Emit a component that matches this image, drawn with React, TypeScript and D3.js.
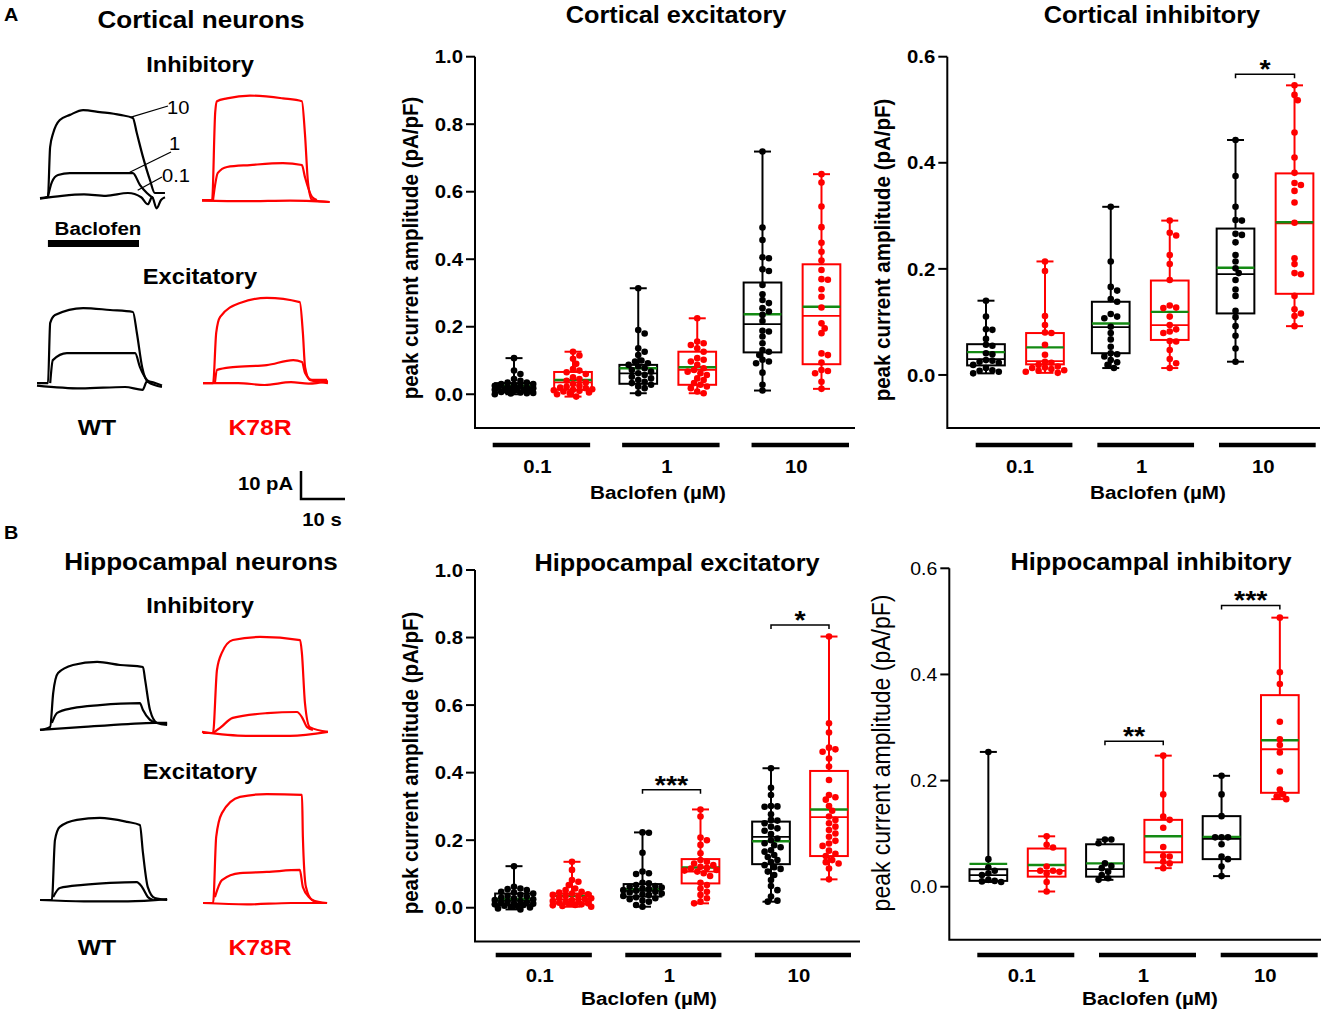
import React from 'react';
import * as d3 from 'd3';

const FONT = '"Liberation Sans", Arial, Helvetica, sans-serif';
const SX = 1.1; // the figure is slightly stretched horizontally
const RED = '#ff0000';
const GREEN = '#138a13';
const W = 1325;
const H = 1014;

const doses = ['0.1', '1', '10'];
const genotypes = ['WT', 'K78R'];
const genoColor: Record<string, string> = { WT: '#000', K78R: RED };

const ticksTo1 = [0, 0.2, 0.4, 0.6, 0.8, 1.0];
const ticksTo06 = [0, 0.2, 0.4, 0.6];

// box order: WT 0.1, K78R 0.1, WT 1, K78R 1, WT 10, K78R 10
// [q1, median, q3]
const cortExcQuart = [
  [0.006, 0.02, 0.033], [0.013, 0.035, 0.066], [0.031, 0.062, 0.087],
  [0.028, 0.072, 0.126], [0.124, 0.208, 0.331], [0.089, 0.232, 0.385],
];
const cortExcMean = [0.025, 0.042, 0.077, 0.08, 0.237, 0.259];
const cortExcPts = [
  [0.107, 0.07, 0.06, 0.045, 0.04, 0.035, 0.035, 0.03, 0.03, 0.028, 0.025, 0.025, 0.022, 0.02, 0.02, 0.018, 0.017, 0.015, 0.015, 0.013, 0.012, 0.01, 0.01, 0.008, 0.007, 0.005, 0.004, 0.003, 0.002, 0.0],
  [0.126, 0.115, 0.105, 0.09, 0.075, 0.07, 0.065, 0.06, 0.05, 0.045, 0.04, 0.035, 0.03, 0.025, 0.022, 0.02, 0.018, 0.015, 0.013, 0.012, 0.01, 0.008, 0.005, 0.003, 0.0, -0.007],
  [0.314, 0.19, 0.18, 0.136, 0.126, 0.116, 0.1, 0.097, 0.092, 0.087, 0.082, 0.077, 0.072, 0.067, 0.062, 0.057, 0.052, 0.047, 0.042, 0.037, 0.033, 0.028, 0.023, 0.018, 0.003],
  [0.225, 0.156, 0.151, 0.146, 0.136, 0.126, 0.107, 0.102, 0.097, 0.087, 0.077, 0.072, 0.067, 0.062, 0.057, 0.047, 0.042, 0.033, 0.028, 0.023, 0.018, 0.008, 0.003],
  [0.719, 0.494, 0.457, 0.406, 0.403, 0.37, 0.365, 0.324, 0.296, 0.279, 0.27, 0.255, 0.245, 0.235, 0.217, 0.188, 0.186, 0.171, 0.151, 0.131, 0.126, 0.116, 0.102, 0.097, 0.092, 0.064, 0.028, 0.011],
  [0.652, 0.627, 0.556, 0.495, 0.449, 0.422, 0.396, 0.368, 0.341, 0.339, 0.311, 0.289, 0.257, 0.21, 0.195, 0.181, 0.121, 0.116, 0.094, 0.072, 0.069, 0.062, 0.037, 0.016],
];

const cortInhQuart = [
  [0.018, 0.03, 0.058], [0.02, 0.026, 0.079], [0.041, 0.09, 0.138],
  [0.066, 0.094, 0.178], [0.116, 0.19, 0.276], [0.153, 0.286, 0.38],
];
const cortInhMean = [0.043, 0.052, 0.097, 0.119, 0.202, 0.288];
const cortInhPts = [
  [0.14, 0.11, 0.086, 0.085, 0.068, 0.057, 0.055, 0.041, 0.039, 0.028, 0.027, 0.025, 0.023, 0.019, 0.013, 0.009, 0.008, 0.006, 0.003],
  [0.214, 0.196, 0.111, 0.094, 0.08, 0.079, 0.057, 0.038, 0.025, 0.023, 0.019, 0.016, 0.014, 0.013, 0.011, 0.009, 0.008, 0.006, 0.004],
  [0.317, 0.214, 0.166, 0.159, 0.143, 0.138, 0.115, 0.11, 0.107, 0.091, 0.079, 0.067, 0.053, 0.041, 0.039, 0.035, 0.028, 0.024, 0.019, 0.013],
  [0.291, 0.268, 0.263, 0.226, 0.209, 0.179, 0.131, 0.127, 0.126, 0.11, 0.094, 0.086, 0.082, 0.079, 0.064, 0.063, 0.047, 0.03, 0.022, 0.013],
  [0.443, 0.375, 0.317, 0.292, 0.291, 0.266, 0.264, 0.25, 0.226, 0.214, 0.201, 0.192, 0.179, 0.161, 0.149, 0.121, 0.109, 0.092, 0.074, 0.05, 0.025],
  [0.546, 0.528, 0.518, 0.457, 0.41, 0.381, 0.362, 0.358, 0.347, 0.325, 0.287, 0.22, 0.209, 0.192, 0.19, 0.149, 0.124, 0.116, 0.111, 0.092],
];
const cortInhSig = [{ dose: '10', y: 0.567, label: '*' }];

const hipExcQuart = [
  [0.008, 0.021, 0.042], [0.013, 0.025, 0.042], [0.033, 0.05, 0.07],
  [0.072, 0.107, 0.144], [0.129, 0.21, 0.255], [0.153, 0.268, 0.405],
];
const hipExcMean = [0.026, 0.035, 0.055, 0.119, 0.197, 0.291];
const hipExcPts = [
  [0.123, 0.062, 0.057, 0.055, 0.052, 0.047, 0.045, 0.042, 0.038, 0.035, 0.033, 0.03, 0.028, 0.025, 0.023, 0.02, 0.018, 0.016, 0.015, 0.013, 0.012, 0.01, 0.008, 0.006, 0.005, 0.003, 0.001, -0.002, -0.005],
  [0.136, 0.112, 0.082, 0.077, 0.067, 0.057, 0.052, 0.047, 0.045, 0.042, 0.04, 0.038, 0.035, 0.033, 0.03, 0.028, 0.026, 0.023, 0.02, 0.018, 0.016, 0.015, 0.013, 0.012, 0.01, 0.008, 0.007, 0.005, 0.003],
  [0.223, 0.222, 0.163, 0.107, 0.102, 0.1, 0.074, 0.072, 0.067, 0.064, 0.062, 0.06, 0.057, 0.055, 0.052, 0.05, 0.047, 0.045, 0.042, 0.04, 0.038, 0.035, 0.031, 0.028, 0.025, 0.021, 0.018, 0.008, 0.003],
  [0.291, 0.27, 0.208, 0.2, 0.186, 0.161, 0.141, 0.136, 0.131, 0.126, 0.121, 0.118, 0.116, 0.112, 0.11, 0.107, 0.102, 0.094, 0.074, 0.067, 0.057, 0.047, 0.038, 0.028, 0.018, 0.013],
  [0.413, 0.355, 0.334, 0.301, 0.3, 0.299, 0.277, 0.26, 0.258, 0.25, 0.24, 0.235, 0.228, 0.218, 0.205, 0.2, 0.191, 0.185, 0.179, 0.17, 0.166, 0.156, 0.15, 0.141, 0.135, 0.126, 0.12, 0.115, 0.107, 0.097, 0.082, 0.064, 0.052, 0.033, 0.021, 0.018],
  [0.803, 0.546, 0.519, 0.474, 0.469, 0.462, 0.442, 0.418, 0.378, 0.334, 0.327, 0.32, 0.301, 0.287, 0.27, 0.26, 0.25, 0.24, 0.23, 0.22, 0.21, 0.198, 0.19, 0.183, 0.169, 0.16, 0.153, 0.141, 0.135, 0.131, 0.116, 0.084],
];
const hipExcSig = [
  { dose: '1', y: 0.349, label: '***' },
  { dose: '10', y: 0.837, label: '*' },
];

const hipInhQuart = [
  [0.011, 0.022, 0.033], [0.019, 0.03, 0.072], [0.019, 0.033, 0.08],
  [0.046, 0.065, 0.126], [0.052, 0.09, 0.133], [0.177, 0.259, 0.361],
];
const hipInhMean = [0.043, 0.041, 0.044, 0.095, 0.094, 0.276];
const hipInhPts = [
  [0.254, 0.052, 0.036, 0.03, 0.025, 0.022, 0.013, 0.011, 0.01, 0.009],
  [0.095, 0.079, 0.074, 0.038, 0.03, 0.03, 0.028, 0.025, 0.009, -0.009],
  [0.089, 0.089, 0.082, 0.044, 0.039, 0.035, 0.028, 0.022, 0.016, 0.013],
  [0.247, 0.174, 0.132, 0.126, 0.111, 0.075, 0.058, 0.057, 0.047, 0.044, 0.035],
  [0.209, 0.174, 0.133, 0.093, 0.093, 0.093, 0.08, 0.057, 0.052, 0.038, 0.02],
  [0.507, 0.404, 0.382, 0.311, 0.278, 0.267, 0.253, 0.217, 0.183, 0.174, 0.17, 0.165],
];
const hipInhSig = [
  { dose: '1', y: 0.274, label: '**' },
  { dose: '10', y: 0.53, label: '***' },
];

// example traces, [time (s), current (pA)]
const cortInhWT: Record<string, number[][]> = {
  '10': [[0, 0.7], [1.8, 1.1], [2.3, 18.9], [3, 23.9], [4.5, 28.6], [6.8, 30.4], [9.8, 32.1], [13.6, 31.4], [18.2, 30.4], [21.1, 29.3], [22, 23.9], [23.4, 15.4], [25, 7.1], [26.1, 2.5], [28.4, 2.5]],
  '1': [[1.8, 1.1], [2.7, 6.4], [4.1, 8.9], [6.8, 9.6], [13.6, 9.6], [21.1, 9.6], [22.7, 5.4], [24.3, 2.5], [25.7, 0.7]],
  '0.1': [[0, 0.5], [5, 1.5], [10, 2], [15, 1.5], [20, 2.5], [23, 1], [24.5, -1.5], [25.5, 1], [26.5, -3], [27.5, 0], [28.4, 1]],
};
const cortInhK78R: Record<string, number[][]> = {
  '10': [[0, 0.7], [2.3, 0.7], [3, 32], [3.4, 36], [5.7, 37], [10.9, 38], [18.4, 37], [22.7, 36], [23.4, 24.3], [24.1, 6.8], [25, 0.7], [29, 0]],
  '1': [[2.5, 0.7], [3.6, 10.4], [5.7, 12.5], [10.9, 13.2], [18.4, 13.9], [22.7, 13.2], [23.4, 8.9], [25, 1.8], [26.1, 0.7]],
  '0.1': [[0, 0.5], [10, 0.3], [20, 0.5], [29, 0]],
};
const cortExcWT: Record<string, number[][]> = {
  '10': [[0, 1.4], [2.5, 1.4], [3, 22.9], [4.1, 25.7], [10.5, 28.2], [16.6, 27.5], [21.8, 26.8], [22.7, 19.3], [23.9, 7.1], [25.2, 1.8], [28.4, 0]],
  '1': [[3, 1.4], [3.6, 9.6], [6.8, 12.1], [14.3, 12.1], [22.3, 12.1], [23.4, 7.1], [25, 2.5], [26.1, 1.4]],
  '0.1': [[0, 0.5], [10, -0.5], [20, 0], [24, -1], [25, 2], [28.4, 0.5]],
};
const cortExcK78R: Record<string, number[][]> = {
  '10': [[0, 0.7], [2.3, 0.7], [3, 18.6], [3.9, 24.3], [8.4, 29.3], [14.5, 31.1], [22, 29.6], [22.7, 18.6], [23.2, 6.4], [24.3, 1.8], [28.4, 0.7]],
  '1': [[2.7, 0.7], [3.2, 5.4], [6.8, 6.4], [14.5, 7.1], [20.5, 8.9], [22.5, 8.2], [23.2, 4.3], [24.8, 1.8], [28.2, 1.8]],
  '0.1': [[0, 0.7], [8, 0.7], [14, 0], [20, 1], [24, 0.5], [28.4, 1.4]],
};
const hipInhWT: Record<string, number[][]> = {
  '10': [[0, -0.7], [2.3, 0.4], [3, 12.5], [4.1, 19.6], [7.5, 22.5], [13, 23.6], [18.2, 22.5], [23.4, 21.8], [23.9, 17.1], [25, 6.4], [26.6, 1.8], [28.9, 1.1]],
  '1': [[2.7, 1.8], [3.9, 5.4], [7.5, 7.1], [13.6, 8.2], [22.7, 8.9], [23.4, 6.4], [25, 2.9], [26.6, 1.8]],
  '0.1': [[0, -0.7], [10, 0.4], [20, 1.4], [26, 1.8], [28.9, 1.8]],
};
const hipInhK78R: Record<string, number[][]> = {
  '10': [[0.2, 0], [2.5, 0], [3.4, 22.5], [4.5, 28.6], [7, 33.2], [13.2, 34.3], [22.3, 33.2], [22.7, 28.6], [23.4, 10.7], [24.5, 2.1], [28.6, 0.4]],
  '1': [[2.5, 0], [4.1, 1.8], [7, 5.4], [14.8, 7.1], [21.6, 7.5], [22.7, 5.7], [23.9, 2.1], [25.2, 1.1]],
  '0.1': [[0, 0.4], [10, -1], [20, -1], [28.6, 0.4]],
};
const hipExcWT: Record<string, number[][]> = {
  '10': [[0, 0], [2.7, 0], [3.4, 21.4], [4.5, 26.1], [8.4, 28.6], [13.6, 29.3], [19.8, 27.9], [22.7, 26.8], [23.4, 16.8], [24.5, 4.6], [26.1, 0.7], [28.9, 0]],
  '1': [[3, 1.1], [4.5, 4.3], [9.8, 5.4], [15.9, 6.1], [22, 6.4], [23.2, 4.6], [24.5, 1.1], [25.7, 0]],
  '0.1': [[0, 0], [10, -0.5], [20, -0.5], [28.9, 0.3]],
};
const hipExcK78R: Record<string, number[][]> = {
  '10': [[0, 0], [2.3, 0], [3, 23.6], [4.3, 32.1], [8.4, 37.9], [14.5, 38.9], [22.5, 38.6], [22.7, 23.6], [23.4, 5.7], [24.8, 1.1], [28.2, 0]],
  '1': [[2.7, 2.1], [4.3, 8.2], [8.4, 10.7], [14.5, 11.1], [22, 11.8], [22.7, 5.7], [24.3, 1.8], [25.5, 0.4]],
  '0.1': [[0, 0], [10, -0.5], [20, 0], [28.2, 0]],
};

const PX_PER_S = 4.4;
const PX_PER_PA = 2.8;

function T({ x, y, size, bold = true, anchor = 'middle', fill = '#000', rotate = false, children }: any) {
  const tf = rotate
    ? `translate(${x},${y}) rotate(-90) scale(1,${SX})`
    : `translate(${x},${y}) scale(${SX},1)`;
  return (
    <text transform={tf} fontSize={size} fontWeight={bold ? 700 : 400} textAnchor={anchor}
      fill={fill} fontFamily={FONT}>{children}</text>
  );
}

// simple dodge layout so dots sit side by side, kept within the box width
function swarm(values: number[], y: (v: number) => number, minDist: number, step: number, maxOff: number) {
  const placed: { x: number; y: number }[] = [];
  const sorted = [...values].sort((a, b) => b - a);
  for (const v of sorted) {
    const py = y(v);
    let best = 0;
    let bestGap = -1;
    for (let k = 0; k < 60; k++) {
      const dx = k === 0 ? 0 : (k % 2 ? 1 : -1) * Math.ceil(k / 2) * step;
      if (Math.abs(dx) > maxOff) break;
      const gap = placed.length ? d3.min(placed, (p) => Math.hypot(p.x - dx, p.y - py)) as number : Infinity;
      if (gap >= minDist) { best = dx; bestGap = gap; break; }
      if (gap > bestGap) { bestGap = gap; best = dx; }
    }
    placed.push({ x: best, y: py });
  }
  return placed;
}

const panels = [
  {
    title: 'Cortical excitatory', titleX: 676, titleY: 23,
    quart: cortExcQuart, mean: cortExcMean, pts: cortExcPts, sig: [] as any[],
    yMax: 1.0, ticks: ticksTo1, yTop: 56.7, yBot: 428, axisX: 475, axisR: 855,
    barY: 445, barRange: [492.7, 849], barPad: 0.247, boxRange: [481.4, 854.1], boxHalf: 29.5,
    tickLabelY: 472.5, xLabelX: 658, xLabelY: 499, yLabelX: 418, yLabelY: 248, bold: true,
  },
  {
    title: 'Cortical inhibitory', titleX: 1152, titleY: 23,
    quart: cortInhQuart, mean: cortInhMean, pts: cortInhPts, sig: cortInhSig,
    yMax: 0.6, ticks: ticksTo06, yTop: 56.7, yBot: 428, axisX: 947.3, axisR: 1320,
    barY: 445, barRange: [975.7, 1315.7], barPad: 0.205, boxRange: [953.1, 1327.4], boxHalf: 29.5,
    tickLabelY: 472.5, xLabelX: 1158, xLabelY: 499, yLabelX: 890, yLabelY: 250, bold: true,
  },
  {
    title: 'Hippocampal excitatory', titleX: 677, titleY: 571,
    quart: hipExcQuart, mean: hipExcMean, pts: hipExcPts, sig: hipExcSig,
    yMax: 1.0, ticks: ticksTo1, yTop: 570, yBot: 941.5, axisX: 475, axisR: 860,
    barY: 955, barRange: [495.7, 851], barPad: 0.258, boxRange: [478.75, 864.25], boxHalf: 29,
    tickLabelY: 981.5, xLabelX: 649, xLabelY: 1005, yLabelX: 418, yLabelY: 763, bold: true,
  },
  {
    title: 'Hippocampal inhibitory', titleX: 1151, titleY: 570,
    quart: hipInhQuart, mean: hipInhMean, pts: hipInhPts, sig: hipInhSig,
    yMax: 0.6, ticks: ticksTo06, yTop: 568.3, yBot: 939.8, axisX: 949.3, axisR: 1321,
    barY: 955, barRange: [977.3, 1317.7], barPad: 0.203, boxRange: [959.2, 1309], boxHalf: 29.15,
    tickLabelY: 981.5, xLabelX: 1150, xLabelY: 1005, yLabelX: 890, yLabelY: 753, bold: false,
  },
];

function BoxPanel({ p }: { p: (typeof panels)[number] }) {
  const y = d3.scaleLinear().domain([-0.1, p.yMax]).range([p.yBot, p.yTop]);
  const bar = d3.scaleBand().domain(doses).range(p.barRange as [number, number]).paddingInner(p.barPad).paddingOuter(0);
  const grp = d3.scaleBand().domain(doses).range(p.boxRange as [number, number]).padding(0);
  const sub = d3.scalePoint().domain(genotypes).range([-p.boxHalf, p.boxHalf]);
  const cx = (dose: string, geno: string) => (grp(dose) as number) + grp.bandwidth() / 2 + (sub(geno) as number);
  const fmt = d3.format('.1f');
  const boxW = 37.7;
  const capW = 17;
  const r = 3.3;
  const tickSize = p.bold ? 18.5 : 17.7;

  return (
    <g>
      <T x={p.titleX} y={p.titleY} size={23}>{p.title}</T>
      {/* axes */}
      <path d={`M${p.axisX},${y(p.yMax)}V${p.yBot}H${p.axisR}`} fill="none" stroke="#000" strokeWidth={2} />
      {p.ticks.map((t) => (
        <g key={t}>
          <line x1={p.axisX - 9} x2={p.axisX} y1={y(t)} y2={y(t)} stroke="#000" strokeWidth={2} />
          <T x={p.axisX - 12} y={y(t) + tickSize * 0.36} size={tickSize} bold={p.bold} anchor="end">{fmt(t)}</T>
        </g>
      ))}
      <T x={p.yLabelX} y={p.yLabelY} size={p.bold ? 20.5 : 23} bold={p.bold} rotate>peak current amplitude (pA/pF)</T>
      {doses.map((d) => (
        <g key={d}>
          <line x1={bar(d)} x2={(bar(d) as number) + bar.bandwidth()} y1={p.barY} y2={p.barY} stroke="#000" strokeWidth={4.5} />
          <T x={(bar(d) as number) + bar.bandwidth() / 2 - 4} y={p.tickLabelY} size={18.5}>{d}</T>
        </g>
      ))}
      <T x={p.xLabelX} y={p.xLabelY} size={18.8}>Baclofen (µM)</T>
      {/* boxes */}
      {p.quart.map((q, i) => {
        const dose = doses[Math.floor(i / 2)];
        const geno = genotypes[i % 2];
        const x = cx(dose, geno);
        const col = genoColor[geno];
        const [lo, hi] = d3.extent(p.pts[i]) as [number, number];
        const dots = swarm(p.pts[i], y, 5.6, 3.2, 21);
        return (
          <g key={i}>
            <line x1={x} x2={x} y1={y(hi)} y2={y(q[2])} stroke={col} strokeWidth={2} />
            <line x1={x} x2={x} y1={y(q[0])} y2={y(lo)} stroke={col} strokeWidth={2} />
            <line x1={x - capW / 2} x2={x + capW / 2} y1={y(hi)} y2={y(hi)} stroke={col} strokeWidth={2} />
            <line x1={x - capW / 2} x2={x + capW / 2} y1={y(lo)} y2={y(lo)} stroke={col} strokeWidth={2} />
            <rect x={x - boxW / 2} y={y(q[2])} width={boxW} height={y(q[0]) - y(q[2])} fill="none" stroke={col} strokeWidth={2} />
            <line x1={x - boxW / 2} x2={x + boxW / 2} y1={y(q[1])} y2={y(q[1])} stroke={col} strokeWidth={1.8} />
            <line x1={x - boxW / 2} x2={x + boxW / 2} y1={y(p.mean[i])} y2={y(p.mean[i])} stroke={GREEN} strokeWidth={2.4} />
            {dots.map((d, j) => (
              <circle key={j} cx={x + d.x} cy={d.y} r={r} fill={col} />
            ))}
          </g>
        );
      })}
      {/* significance */}
      {p.sig.map((s: any) => {
        const x1 = cx(s.dose, 'WT');
        const x2 = cx(s.dose, 'K78R');
        const yy = y(s.y);
        return (
          <g key={s.dose}>
            <path d={`M${x1},${yy + 4}V${yy}H${x2}V${yy + 4}`} fill="none" stroke="#000" strokeWidth={1.5} />
            <T x={(x1 + x2) / 2} y={yy + 4} size={26}>{s.label}</T>
          </g>
        );
      })}
    </g>
  );
}

const tracePanels = [
  { x0: 40, y0: 200, color: '#000', traces: cortInhWT },
  { x0: 202, y0: 202, color: RED, traces: cortInhK78R },
  { x0: 37, y0: 387, color: '#000', traces: cortExcWT },
  { x0: 203, y0: 385, color: RED, traces: cortExcK78R },
  { x0: 40, y0: 728, color: '#000', traces: hipInhWT },
  { x0: 202, y0: 733, color: RED, traces: hipInhK78R },
  { x0: 40, y0: 900, color: '#000', traces: hipExcWT },
  { x0: 203, y0: 903, color: RED, traces: hipExcK78R },
];

function tScales(x0: number, y0: number) {
  const xs = d3.scaleLinear().domain([0, 10]).range([x0, x0 + 10 * PX_PER_S]);
  const ys = d3.scaleLinear().domain([0, 10]).range([y0, y0 - 10 * PX_PER_PA]);
  return { xs, ys };
}

function Traces() {
  return (
    <g>
      {tracePanels.map((tp, k) => {
        const { xs, ys } = tScales(tp.x0, tp.y0);
        const line = d3.line<number[]>().x((d) => xs(d[0])).y((d) => ys(d[1])).curve(d3.curveMonotoneX);
        return (
          <g key={k}>
            {Object.keys(tp.traces).map((c) => (
              <path key={c} d={line(tp.traces[c]) as string} fill="none" stroke={tp.color}
                strokeWidth={2.2} strokeLinejoin="round" />
            ))}
          </g>
        );
      })}
    </g>
  );
}

function LeftLabels() {
  const { xs, ys } = tScales(40, 200);
  const sb = tScales(301, 499);
  return (
    <g>
      <T x={4} y={21} size={18} anchor="start">A</T>
      <T x={201} y={28} size={23.7}>Cortical neurons</T>
      <T x={200} y={72} size={21.5}>Inhibitory</T>
      <T x={200} y={284} size={21.5}>Excitatory</T>
      <T x={97} y={435} size={22.5}>WT</T>
      <T x={260} y={435} size={22.5} fill={RED}>K78R</T>
      {/* concentration labels */}
      <line x1={xs(20.5)} y1={ys(29.5)} x2={168} y2={106} stroke="#000" strokeWidth={1.3} />
      <line x1={xs(20.4)} y1={ys(9.9)} x2={171} y2={152} stroke="#000" strokeWidth={1.3} />
      <line x1={xs(22.2)} y1={ys(3.5)} x2={162} y2={177} stroke="#000" strokeWidth={1.3} />
      <T x={167} y={114} size={18.3} bold={false} anchor="start">10</T>
      <T x={169} y={150} size={18.3} bold={false} anchor="start">1</T>
      <T x={162} y={182} size={18.3} bold={false} anchor="start">0.1</T>
      {/* baclofen application */}
      <T x={98} y={235} size={18.7}>Baclofen</T>
      <line x1={xs(1.8)} x2={xs(22.5)} y1={243.5} y2={243.5} stroke="#000" strokeWidth={7} />
      {/* scale bar */}
      <path d={`M${sb.xs(0)},${sb.ys(10)}V${sb.ys(0)}H${sb.xs(10)}`} fill="none" stroke="#000" strokeWidth={2.5} />
      <T x={293} y={490} size={18.4} anchor="end">10 pA</T>
      <T x={322} y={526} size={18.4}>10 s</T>

      <T x={4} y={539} size={18} anchor="start">B</T>
      <T x={201} y={570} size={23.7}>Hippocampal neurons</T>
      <T x={200} y={613} size={21.5}>Inhibitory</T>
      <T x={200} y={779} size={21.5}>Excitatory</T>
      <T x={97} y={955} size={22.5}>WT</T>
      <T x={260} y={955} size={22.5} fill={RED}>K78R</T>
    </g>
  );
}

export default function App() {
  return (
    <div style={{ position: 'absolute', left: 0, top: 0, width: W, height: H, background: '#fff' }}>
      <svg width={W} height={H} viewBox={`0 0 ${W} ${H}`} style={{ display: 'block' }}>
        <rect width={W} height={H} fill="#fff" />
        <LeftLabels />
        <Traces />
        {panels.map((p) => <BoxPanel key={p.title} p={p} />)}
      </svg>
    </div>
  );
}
